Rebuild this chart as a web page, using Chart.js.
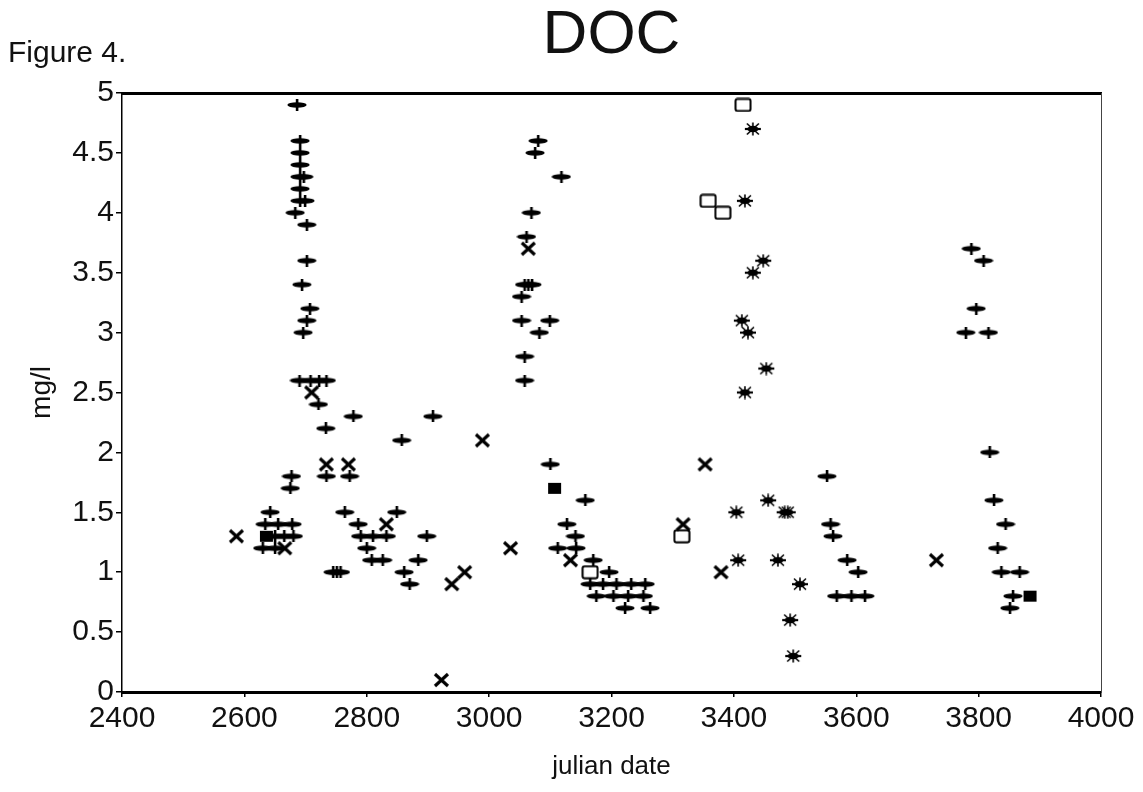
<!DOCTYPE html>
<html>
<head>
<meta charset="utf-8">
<script src="https://cdn.jsdelivr.net/npm/chart.js@4.4.1/dist/chart.umd.min.js"></script>
<style>
  html, body { margin: 0; padding: 0; background: #fff; }
  #wrap { width: 1143px; height: 792px; position: relative; }
</style>
</head>
<body>
<div id="wrap"><canvas id="c" width="1143" height="792"></canvas></div>
<script>
// ---- data ----
const chartTitle = "DOC";
const figureLabel = "Figure 4.";
const xAxisLabel = "julian date";
const yAxisLabel = "mg/l";
const xTickValues = [2400, 2600, 2800, 3000, 3200, 3400, 3600, 3800, 4000];
const yTickValues = [0, 0.5, 1, 1.5, 2, 2.5, 3, 3.5, 4, 4.5, 5];

// "+" series
const plusX = [2686, 2691, 2691, 2691, 2691, 2697, 2691, 2691, 2699, 2683, 2702, 2702, 2694, 2707, 2702, 2696,
  2690, 2708, 2722, 2734, 2721, 2733, 2778, 2734, 2772, 2677, 2675, 2642,
  2634, 2655, 2678, 2650, 2665, 2680, 2630, 2650, 2745, 2751, 2757,
  2764, 2786, 2790, 2810, 2832, 2800, 2808, 2826, 2849, 2898, 2908, 2857, 2884, 2861, 2870,
  3058, 3100, 3157, 3127, 3141, 3112, 3142, 3170, 3196, 3165, 3186, 3208, 3232, 3255,
  3175, 3203, 3227, 3252, 3222, 3263,
  3080, 3075, 3118, 3069, 3061, 3058, 3064, 3070, 3053, 3053, 3099, 3082, 3058,
  3552, 3558, 3562, 3585, 3603, 3568, 3592, 3614,
  3788, 3808, 3796, 3779, 3816, 3818, 3825, 3844, 3831, 3837, 3867, 3856, 3851];
const plusY = [4.9, 4.6, 4.5, 4.4, 4.3, 4.3, 4.2, 4.1, 4.1, 4.0, 3.9, 3.6, 3.4, 3.2, 3.1, 3.0,
  2.6, 2.6, 2.6, 2.6, 2.4, 2.2, 2.3, 1.8, 1.8, 1.8, 1.7, 1.5,
  1.4, 1.4, 1.4, 1.3, 1.3, 1.3, 1.2, 1.2, 1.0, 1.0, 1.0,
  1.5, 1.4, 1.3, 1.3, 1.3, 1.2, 1.1, 1.1, 1.5, 1.3, 2.3, 2.1, 1.1, 1.0, 0.9,
  2.6, 1.9, 1.6, 1.4, 1.3, 1.2, 1.2, 1.1, 1.0, 0.9, 0.9, 0.9, 0.9, 0.9,
  0.8, 0.8, 0.8, 0.8, 0.7, 0.7,
  4.6, 4.5, 4.3, 4.0, 3.8, 3.4, 3.4, 3.4, 3.3, 3.1, 3.1, 3.0, 2.8,
  1.8, 1.4, 1.3, 1.1, 1.0, 0.8, 0.8, 0.8,
  3.7, 3.6, 3.2, 3.0, 3.0, 2.0, 1.6, 1.4, 1.2, 1.0, 1.0, 0.8, 0.7];

// "x" series
const crossX = [2587, 2710, 2734, 2770, 2666, 2832, 2989, 3035, 3064, 3133, 2960, 2939, 2922, 3353, 3317, 3379, 3731];
const crossY = [1.3, 2.5, 1.9, 1.9, 1.2, 1.4, 2.1, 1.2, 3.7, 1.1, 1.0, 0.9, 0.1, 1.9, 1.4, 1.0, 1.1];

// "*" series
const starX = [3431, 3418, 3448, 3431, 3413, 3423, 3453, 3418, 3456, 3404, 3483, 3488, 3407, 3472, 3508, 3492, 3497];
const starY = [4.7, 4.1, 3.6, 3.5, 3.1, 3.0, 2.7, 2.5, 1.6, 1.5, 1.5, 1.5, 1.1, 1.1, 0.9, 0.6, 0.3];

// open square series
const boxX = [3415, 3358, 3382, 3315, 3165];
const boxY = [4.9, 4.1, 4.0, 1.3, 1.0];

// filled square (overlapping marks)
const solidX = [3107, 2636, 3884];
const solidY = [1.7, 1.3, 0.8];

// ---- marker images ----
function mk(w, h, draw) {
  const c = document.createElement('canvas');
  c.width = w; c.height = h;
  const g = c.getContext('2d');
  g.fillStyle = '#000'; g.strokeStyle = '#000';
  draw(g);
  return c;
}
const plusImg = mk(20, 12, g => {
  g.beginPath(); g.ellipse(10, 6, 9.6, 2.7, 0, 0, Math.PI * 2); g.fill();
  g.fillRect(8.8, 0, 2.6, 12);
});
const crossImg = mk(17, 16, g => {
  g.lineWidth = 3.2; g.lineCap = 'butt';
  g.beginPath(); g.moveTo(2, 2); g.lineTo(15, 14); g.moveTo(15, 2); g.lineTo(2, 14); g.stroke();
});
const starImg = mk(18, 14, g => {
  g.beginPath(); g.ellipse(9, 7, 5.5, 3.3, 0, 0, Math.PI * 2); g.fill();
  g.lineWidth = 2.2;
  g.beginPath(); g.moveTo(1, 7); g.lineTo(17, 7); g.stroke();
  g.lineWidth = 1.6;
  g.beginPath(); g.moveTo(3, 1.5); g.lineTo(15, 12.5); g.moveTo(15, 1.5); g.lineTo(3, 12.5);
  g.moveTo(9, 0.5); g.lineTo(9, 13.5); g.stroke();
});
const boxImg = mk(18, 15, g => {
  g.lineWidth = 2;
  g.beginPath();
  if (g.roundRect) g.roundRect(1.5, 1.5, 15, 12, 2); else g.rect(1.5, 1.5, 15, 12);
  g.stroke();
});
const solidImg = mk(15, 13, g => { g.fillRect(1, 1, 13, 11); });

function pts(xs, ys) { return xs.map((x, i) => ({ x: x, y: ys[i] })); }

const FONT = "'Liberation Sans', Arial, Helvetica, sans-serif";

const figureLabelPlugin = {
  id: 'figureLabel',
  afterDraw(chart) {
    const ctx = chart.ctx;
    ctx.save();
    ctx.font = "30px " + FONT;
    ctx.fillStyle = '#111';
    ctx.textBaseline = 'alphabetic';
    ctx.textAlign = 'left';
    ctx.fillText(figureLabel, 8, 62);
    ctx.restore();
  }
};

const tickCfg = (vals) => function (scale) { scale.ticks = vals.map(v => ({ value: v })); };
const plainLabel = (v) => String(v);

new Chart(document.getElementById('c'), {
  type: 'scatter',
  data: {
    datasets: [
      { label: '+', data: pts(plusX, plusY), pointStyle: plusImg, pointRadius: 8 },
      { label: 'x', data: pts(crossX, crossY), pointStyle: crossImg, pointRadius: 8 },
      { label: '*', data: pts(starX, starY), pointStyle: starImg, pointRadius: 8 },
      { label: 'box', data: pts(boxX, boxY), pointStyle: boxImg, pointRadius: 8 },
      { label: 'solid', data: pts(solidX, solidY), pointStyle: solidImg, pointRadius: 8 }
    ]
  },
  options: {
    responsive: false,
    animation: false,
    devicePixelRatio: 1,
    layout: { padding: { left: 0, right: 42, top: 0, bottom: 0 } },
    plugins: {
      legend: { display: false },
      tooltip: { enabled: false },
      title: {
        display: true, text: chartTitle, fullSize: false,
        color: '#111',
        font: { family: FONT, size: 62, weight: 'normal', lineHeight: 1 },
        padding: { top: 5, bottom: 26 }
      }
    },
    scales: {
      x: {
        type: 'linear', position: 'bottom', min: 2400, max: 4000,
        afterBuildTicks: tickCfg(xTickValues),
        afterFit(s) { s.height = 100; },
        ticks: { color: '#111', font: { family: FONT, size: 30 }, padding: 4, maxRotation: 0, autoSkip: false, callback: plainLabel },
        grid: { display: true, drawOnChartArea: false, tickLength: 5, color: '#000', lineWidth: 1.5 },
        border: { display: true, color: '#000', width: 3 },
        title: { display: true, text: xAxisLabel, color: '#111', font: { family: FONT, size: 26, lineHeight: 1 }, padding: { top: 0, bottom: 12 } }
      },
      x2: {
        type: 'linear', position: 'top', min: 2400, max: 4000,
        afterFit(s) { s.height = 0; },
        ticks: { display: false },
        grid: { display: true, drawOnChartArea: false, drawTicks: false },
        border: { display: true, color: '#000', width: 3 }
      },
      y: {
        type: 'linear', position: 'left', min: 0, max: 5,
        afterBuildTicks: tickCfg(yTickValues),
        afterFit(s) { s.width = 122; },
        ticks: { color: '#111', font: { family: FONT, size: 30 }, padding: 2, autoSkip: false, callback: plainLabel },
        grid: { display: true, drawOnChartArea: false, tickLength: 6, color: '#000', lineWidth: 1.5 },
        border: { display: true, color: '#000', width: 1.5 },
        title: { display: true, text: yAxisLabel, color: '#111', font: { family: FONT, size: 28, lineHeight: 1 }, padding: { top: 28, bottom: 0 } }
      },
      y2: {
        type: 'linear', position: 'right', min: 0, max: 5,
        afterFit(s) { s.width = 0; },
        ticks: { display: false },
        grid: { display: true, drawOnChartArea: false, drawTicks: false },
        border: { display: true, color: '#444', width: 1, dash: [3, 2] }
      }
    }
  },
  plugins: [figureLabelPlugin]
});
</script>
</body>
</html>
